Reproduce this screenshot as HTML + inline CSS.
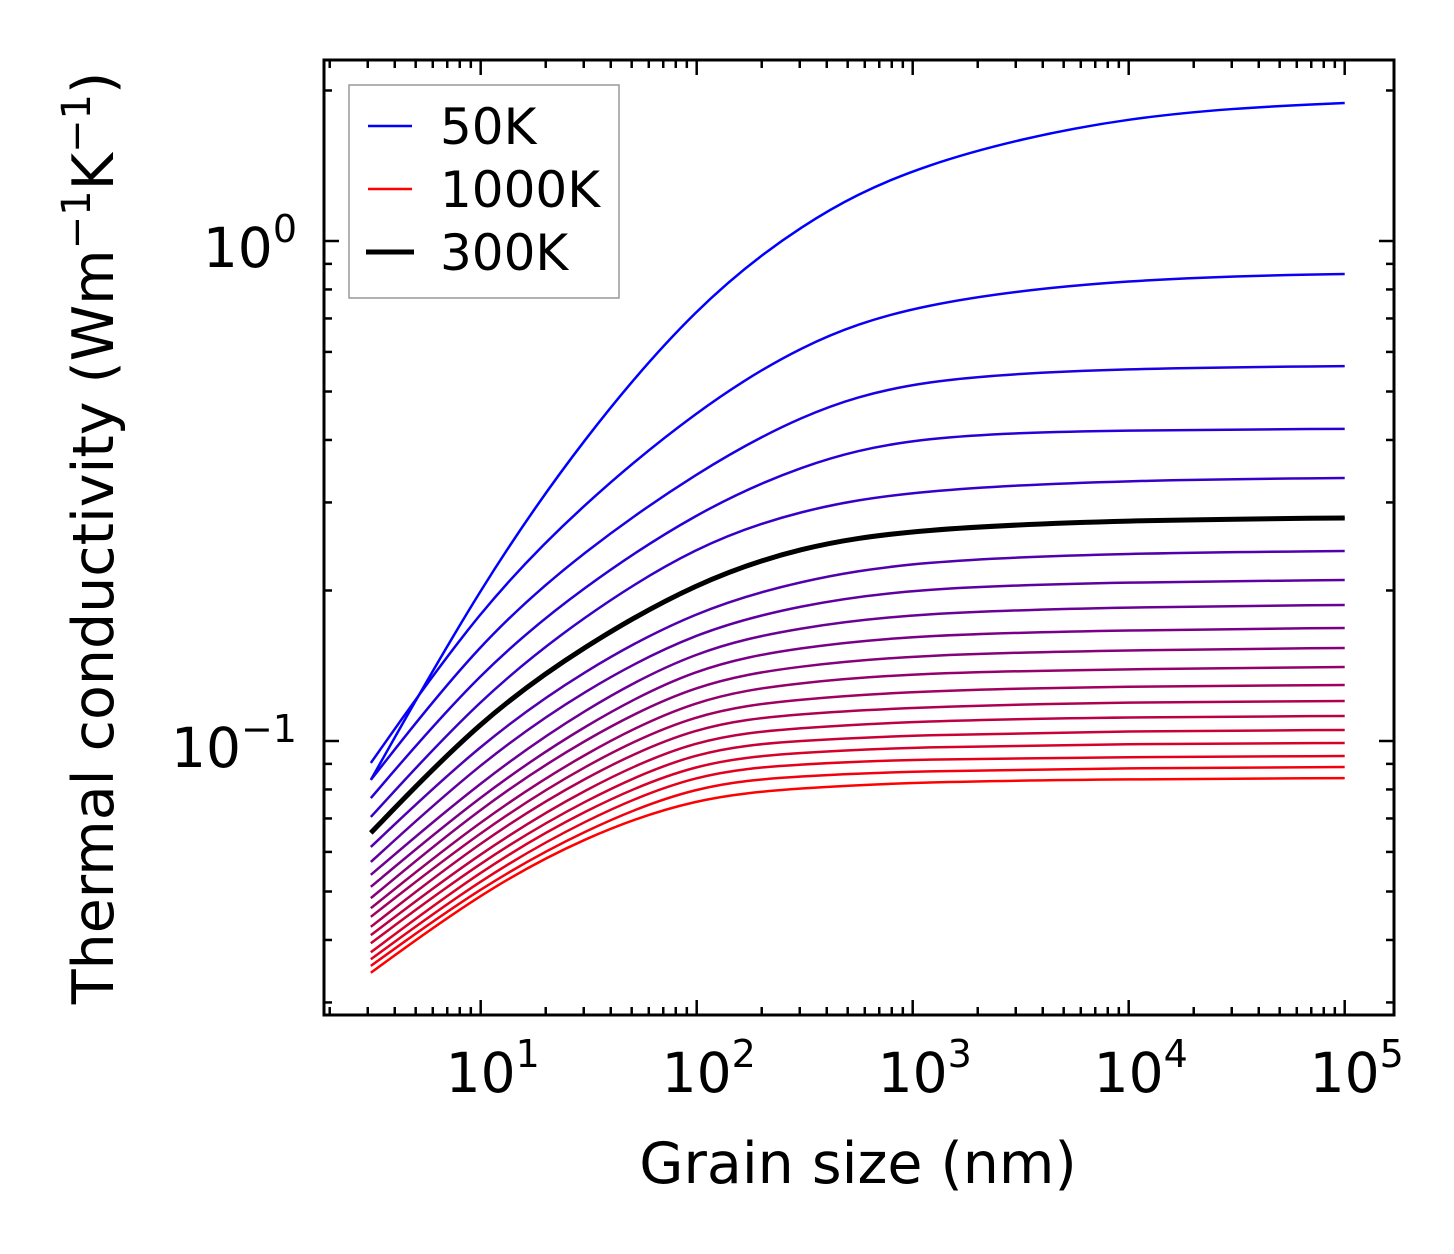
<!DOCTYPE html>
<html><head><meta charset="utf-8">
<style>
html,body{margin:0;padding:0;background:#fff;}
svg{display:block;font-family:"DejaVu Sans","Liberation Sans",sans-serif;}
</style></head>
<body>
<svg id="chart" width="1454" height="1254" viewBox="0 0 1454 1254" xmlns="http://www.w3.org/2000/svg">
<rect width="1454" height="1254" fill="#fff"/>
<g id="curves"></g>
<g id="ticks"></g>
<rect x="324" y="60" width="1070" height="955" fill="none" stroke="#000" stroke-width="3"/>
<g id="xlabels" font-size="55" text-anchor="middle"></g>
<g id="ylabels" font-size="55" text-anchor="end"></g>
<text x="858" y="1183" font-size="57" text-anchor="middle">Grain size (nm)</text>
<text transform="translate(113,538) rotate(-90)" font-size="57" text-anchor="middle">Thermal conductivity (Wm<tspan dy="-23" font-size="40">−1</tspan><tspan dy="23">K</tspan><tspan dy="-23" font-size="40">−1</tspan><tspan dy="23">)</tspan></text>
<g>
<rect x="349" y="85" width="270" height="213" fill="#fff" stroke="#999" stroke-width="1.5"/>
<g><line x1="368" y1="126" x2="412" y2="126" stroke="#0000ff" stroke-width="2.5"/><text x="440" y="144" font-size="50">50K</text></g>
<g><line x1="368" y1="189" x2="412" y2="189" stroke="#ff0000" stroke-width="2.5"/><text x="440" y="207" font-size="50">1000K</text></g>
<g><line x1="366" y1="252" x2="414" y2="252" stroke="#000" stroke-width="5"/><text x="440" y="270" font-size="50">300K</text></g>
</g>
</svg>
<script>
const grainSizes = [3.1, 10, 30, 100, 300, 1000, 10000, 100000];
const temperatures = [50,100,150,200,250,300,350,400,450,500,550,600,650,700,750,800,850,900,950,1000];
const k50 = [0.0836, 0.205, 0.4055, 0.745, 1.08, 1.426, 1.803, 1.888];
const k100 = [0.0904, 0.1854, 0.299, 0.459, 0.62, 0.752, 0.843, 0.859];
const k150 = [0.0836, 0.1592, 0.240, 0.345, 0.449, 0.532, 0.557, 0.562];
const k200 = [0.0769, 0.1387, 0.204, 0.287, 0.356, 0.409, 0.419, 0.421];
const k250 = [0.0705, 0.1225, 0.178, 0.2466, 0.290, 0.3177, 0.3327, 0.3357];
const k300 = [0.0655, 0.1107, 0.155, 0.208, 0.2445, 0.2655, 0.2767, 0.2793];
const k350 = [0.0614, 0.0991, 0.1387, 0.1828, 0.2093, 0.2291, 0.2377, 0.2399];
const k400 = [0.0573, 0.0908, 0.1266, 0.1660, 0.1869, 0.2023, 0.208, 0.2099];
const k450 = [0.0540, 0.0832, 0.1159, 0.1528, 0.1687, 0.1803, 0.1854, 0.1871];
const k500 = [0.0511, 0.0780, 0.1076, 0.1413, 0.1539, 0.1629, 0.1667, 0.1683];
const k550 = [0.0485, 0.0738, 0.1009, 0.1312, 0.1414, 0.1486, 0.1521, 0.1535];
const k600 = [0.0463, 0.0695, 0.0946, 0.1225, 0.1309, 0.1368, 0.1393, 0.1406];
const k650 = [0.0445, 0.0661, 0.0895, 0.1148, 0.1213, 0.1259, 0.1288, 0.1294];
const k700 = [0.0425, 0.0631, 0.0847, 0.1081, 0.1134, 0.1169, 0.1197, 0.1202];
const k750 = [0.0409, 0.0600, 0.0802, 0.1019, 0.1062, 0.1096, 0.1117, 0.1122];
const k800 = [0.0394, 0.0575, 0.0762, 0.0964, 0.1002, 0.1028, 0.1047, 0.1052];
const k850 = [0.0378, 0.0552, 0.0728, 0.0912, 0.0948, 0.0973, 0.0987, 0.0991];
const k900 = [0.0366, 0.0530, 0.0695, 0.0867, 0.0899, 0.0920, 0.0929, 0.0933];
const k950 = [0.0355, 0.0511, 0.0664, 0.0820, 0.0851, 0.0871, 0.0883, 0.0887];
const k1000 = [0.0344, 0.0497, 0.0643, 0.0773, 0.0805, 0.0828, 0.0839, 0.0843];
const series = [k50,k100,k150,k200,k250,k300,k350,k400,k450,k500,k550,k600,k650,k700,k750,k800,k850,k900,k950,k1000];
const xTickExps = [1,2,3,4,5];
const yTickExps = [0,-1];
const highlightT = 300;

const NS = "http://www.w3.org/2000/svg";
const X0 = 480.7, XD = 216;
const Y0 = 241, YD = 500;
const xs = v => X0 + (Math.log10(v) - 1) * XD;
const ys = v => Y0 - Math.log10(v) * YD;

// smooth cubic B-spline through control points (clamped ends)
function pathFor(vals) {
  const P = grainSizes.map((g, i) => [xs(g), ys(vals[i])]);
  const B = [P[0], P[0], ...P, P[P.length-1], P[P.length-1]];
  const f = v => v.toFixed(2);
  let d = "M" + f(P[0][0]) + "," + f(P[0][1]);
  for (let i = 0; i + 3 < B.length; i++) {
    const b1 = B[i+1], b2 = B[i+2], b0 = B[i], b3 = B[i+3];
    const c1 = [(2*b1[0] + b2[0])/3, (2*b1[1] + b2[1])/3];
    const c2 = [(b1[0] + 2*b2[0])/3, (b1[1] + 2*b2[1])/3];
    const e = [(b1[0] + 4*b2[0] + b3[0])/6, (b1[1] + 4*b2[1] + b3[1])/6];
    d += "C" + f(c1[0]) + "," + f(c1[1]) + " " + f(c2[0]) + "," + f(c2[1]) + " " + f(e[0]) + "," + f(e[1]);
  }
  return d;
}

const cg = document.getElementById("curves");
series.forEach((vals, i) => {
  const t = i / (series.length - 1);
  const p = document.createElementNS(NS, "path");
  p.setAttribute("d", pathFor(vals));
  p.setAttribute("fill", "none");
  p.setAttribute("stroke", `rgb(${Math.round(255*t)},0,${Math.round(255*(1-t))})`);
  p.setAttribute("stroke-width", "2.5");
  
  
  cg.appendChild(p);
});
const hi = temperatures.indexOf(highlightT);
const hp = document.createElementNS(NS, "path");
hp.setAttribute("d", pathFor(series[hi]));
hp.setAttribute("fill", "none");
hp.setAttribute("stroke", "#000");
hp.setAttribute("stroke-width", "5");


cg.appendChild(hp);

const tg = document.getElementById("ticks");
function ln(x1, y1, x2, y2) {
  const l = document.createElementNS(NS, "line");
  l.setAttribute("x1", x1); l.setAttribute("y1", y1); l.setAttribute("x2", x2); l.setAttribute("y2", y2);
  l.setAttribute("stroke", "#000"); l.setAttribute("stroke-width", "2.5");
  
  
  tg.appendChild(l);
}
const L = 324, R = 1394, T = 60, B = 1015;
for (let e = 0; e <= 5; e++) {
  for (let k = 1; k <= 9; k++) {
    const x = xs(k * Math.pow(10, e));
    if (x < L || x > R) continue;
    const len = k === 1 ? 15 : 8;
    ln(x, B, x, B - len); ln(x, T, x, T + len);
  }
}
for (let e = -2; e <= 0; e++) {
  for (let k = 1; k <= 9; k++) {
    const y = ys(k * Math.pow(10, e));
    if (y < T || y > B) continue;
    const len = k === 1 ? 15 : 8;
    ln(L, y, L + len, y); ln(R, y, R - len, y);
  }
}
const xl = document.getElementById("xlabels");
xTickExps.forEach(e => {
  const t = document.createElementNS(NS, "text");
  t.setAttribute("x", xs(Math.pow(10, e)) + 12);
  t.setAttribute("y", 1092);
  t.innerHTML = '10<tspan dy="-25" font-size="38">' + e + '</tspan>';
  
  
  xl.appendChild(t);
});
const yl = document.getElementById("ylabels");
yTickExps.forEach(e => {
  const t = document.createElementNS(NS, "text");
  t.setAttribute("x", 297);
  t.setAttribute("y", ys(Math.pow(10, e)) + 26);
  t.innerHTML = '10<tspan dy="-25" font-size="38">' + (e < 0 ? '−' + (-e) : e) + '</tspan>';
  
  
  yl.appendChild(t);
});
</script>
</body></html>
